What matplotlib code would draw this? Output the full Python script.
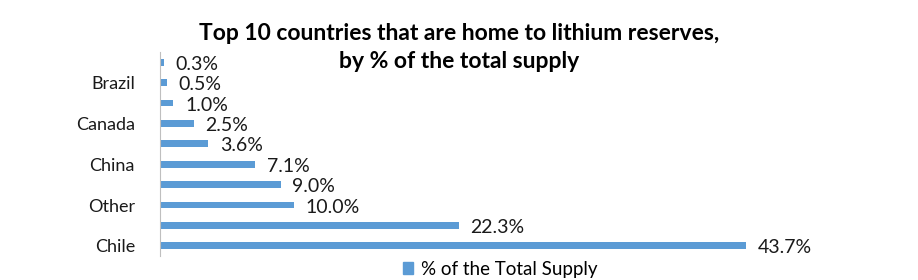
import matplotlib
matplotlib.use("Agg")
import matplotlib.pyplot as plt
from matplotlib.patches import Patch

categories = ["Chile", "Australia", "Other", "Argentina", "China",
              "United States", "Canada", "Zimbabwe", "Brazil", "Portugal"]
values = [43.7, 22.3, 10.0, 9.0, 7.1, 3.6, 2.5, 1.0, 0.5, 0.3]
series_name = "% of the Total Supply"
title_lines = ["Top 10 countries that are home to lithium reserves,",
               "by % of the total supply"]

plt.rcParams['font.family'] = ['Lato', 'DejaVu Sans']
color = "#5B9BD5"

fig = plt.figure(figsize=(9.18, 2.8), dpi=100)
ax = fig.add_axes([160/918, 24/280, 670/918, 204/280])
pos = list(range(len(categories)))
ax.barh(pos, values, height=0.34, color=color)
ax.set_xlim(0, 50)
ax.set_ylim(-0.5, len(categories) - 0.5)
ax.set_yticks(pos)
ax.set_yticklabels([c if i % 2 == 0 else "" for i, c in enumerate(categories)], fontsize=13, color="#1a1a1a")
ax.tick_params(axis='y', length=0, pad=18)
ax.set_xticks([])
for s in ["top", "right", "bottom"]:
    ax.spines[s].set_visible(False)
ax.spines["left"].set_color("#BFBFBF")
ax.spines["left"].set_linewidth(0.8)
for p, v in zip(pos, values):
    ax.annotate(f"{v:.1f}%", (v, p), xytext=(8.5, -1.5), textcoords="offset points",
                va="center", ha="left", fontsize=14, color="#1a1a1a")

for i, line in enumerate(title_lines):
    fig.text(0.5, 1 - (33 + 29 * i) / 280, line, ha="center", va="center",
             fontsize=16.5, fontweight="bold", color="black")
fig.legend(handles=[Patch(color=color, label=series_name)], loc="center",
           bbox_to_anchor=(500/918, 1 - 269/280), frameon=False, fontsize=13.5,
           handlelength=0.55, handleheight=0.55, handletextpad=0.4)
fig.savefig("out.png", dpi=100)
